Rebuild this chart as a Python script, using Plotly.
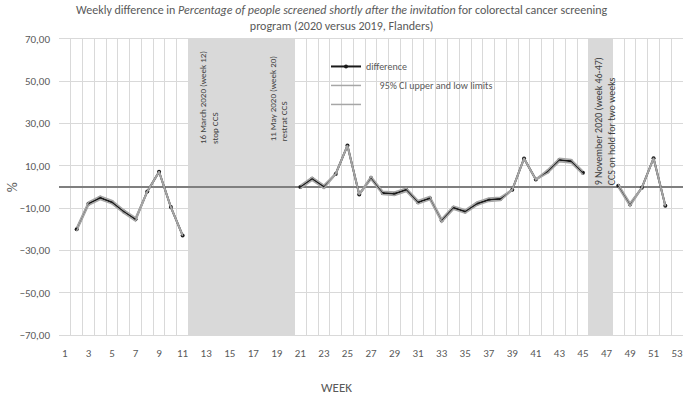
import plotly.graph_objects as go

weeks = list(range(1, 54))

difference = [None, -20.0, -7.9, -5.1, -7.2, -11.6, -15.3, -2.1, 7.2, -9.5, -22.9,
              None, None, None, None, None, None, None, None, None,
              0.0, 3.9, 0.1, 6.2, 19.6, -3.5, 4.3, -2.8, -3.2, -1.3,
              -7.2, -5.3, -15.8, -9.8, -11.6, -7.9, -6.0, -5.6, -1.3, 13.5,
              3.5, 7.3, 12.8, 12.2, 6.7, None, None,
              0.6, -8.3, -0.4, 13.6, -8.9, None]

ci_upper = [None, -19.2, -7.1, -4.3, -6.4, -10.8, -14.5, -1.9, 7.4, -9.3, -22.7,
            None, None, None, None, None, None, None, None, None,
            0.8, 4.7, 0.9, 6.4, 19.8, -3.3, 5.1, -2.0, -2.4, -0.5,
            -6.4, -4.5, -15.0, -9.0, -10.8, -7.1, -5.2, -4.8, -1.1, 13.7,
            3.7, 8.1, 13.6, 13.0, 7.5, None, None,
            1.4, -7.5, -0.2, 13.8, -8.7, None]

ci_lower = [None, -20.8, -8.7, -5.9, -8.0, -12.4, -16.1, -2.3, 7.0, -9.7, -23.1,
            None, None, None, None, None, None, None, None, None,
            -0.8, 3.1, -0.7, 6.0, 19.4, -3.7, 3.5, -3.6, -4.0, -2.1,
            -8.0, -6.1, -16.6, -10.6, -12.4, -8.7, -6.8, -6.4, -1.5, 13.3,
            3.3, 6.5, 12.0, 11.4, 5.9, None, None,
            -0.2, -9.1, -0.6, 13.4, -9.1, None]

y_ticks = [70, 50, 30, 10, -10, -30, -50, -70]
x_ticks = list(range(1, 54, 2))

shaded_periods = [(11.5, 20.5), (45.5, 47.5)]

events = [
    (13.15, 0.64, "16 March 2020 (week 12)<br>stop CCS", 9),
    (19.15, 0.646, "11 May 2020 (week 20)<br>restrat CCS", 9),
    (46.85, 0.498, "9 November 2020 (week 46-47)<br>CCS on hold for two weeks", 10),
]

TITLE = ("Weekly difference in <i>Percentage of people screened shortly after the invitation</i>"
         " for colorectal cancer screening<br>program (2020 versus 2019, Flanders)")

FONT = "Carlito, Lato, sans-serif"
GREY_TXT = "#595959"
GRID = "#d9d9d9"

fig = go.Figure()
fig.add_trace(go.Scatter(x=weeks, y=difference, name="difference", mode="lines+markers",
                         line=dict(color="#1a1a1a", width=2),
                         marker=dict(color="#1a1a1a", size=4), connectgaps=False))
fig.add_trace(go.Scatter(x=weeks, y=ci_upper,
                         name="\u00a0\u00a0\u00a0\u00a0\u00a0\u00a095% CI upper and low limits",
                         mode="lines", line=dict(color="#a6a6a6", width=1.5), connectgaps=False))
fig.add_trace(go.Scatter(x=weeks, y=ci_lower, name=" ", mode="lines",
                         line=dict(color="#a6a6a6", width=1.5), connectgaps=False))

for x0, x1 in shaded_periods:
    fig.add_shape(type="rect", xref="x", yref="paper", x0=x0, x1=x1, y0=0, y1=1,
                  fillcolor="#d9d9d9", line=dict(width=0), layer="below")

for xv, yv, txt, fs in events:
    fig.add_annotation(x=xv, y=yv, xref="x", yref="paper", text=txt, textangle=-90,
                       showarrow=False, align="left", xanchor="center", yanchor="bottom",
                       font=dict(family=FONT, size=fs, color="#404040"))

fig.add_annotation(x=(342 - 59) / 624, y=(335 - 0) / 297, xref="paper", yref="paper",
                   text=TITLE, showarrow=False, xanchor="center", yanchor="top",
                   align="center", font=dict(family=FONT, size=12, color=GREY_TXT))
fig.add_annotation(x=(336 - 59) / 624, y=-0.178, xref="paper", yref="paper", text="WEEK",
                   showarrow=False, xanchor="center", yanchor="middle",
                   font=dict(family=FONT, size=13, color=GREY_TXT))
fig.add_annotation(x=-0.075, y=0.5, xref="paper", yref="paper", text="%", textangle=-90,
                   showarrow=False, xanchor="center", yanchor="middle",
                   font=dict(family=FONT, size=14, color=GREY_TXT))

fig.update_layout(
    width=685, height=394,
    margin=dict(l=59, r=2, t=39, b=59),
    paper_bgcolor="white", plot_bgcolor="white",
    separators=", ",
    font=dict(family=FONT, color=GREY_TXT, size=11),
    showlegend=True,
    legend=dict(x=(326 - 59) / 624, y=(335 - 51) / 297, xanchor="left", yanchor="top",
                bgcolor="rgba(0,0,0,0)", font=dict(family=FONT, size=10, color=GREY_TXT),
                tracegroupgap=0),
    xaxis=dict(range=[0.5, 53.5], tickmode="array", tickvals=x_ticks, showgrid=False,
               zeroline=False, ticks="", ticklabelstandoff=8,
               tickfont=dict(family=FONT, size=11, color=GREY_TXT),
               showline=True, linecolor=GRID, mirror=True,
               minor=dict(tickmode="linear", tick0=0.5, dtick=1, showgrid=True,
                          gridcolor=GRID, gridwidth=1)),
    yaxis=dict(range=[-70, 70], tickmode="array", tickvals=y_ticks, tickformat=".2f",
               showgrid=True, gridcolor=GRID, gridwidth=1,
               zeroline=True, zerolinecolor="#7f7f7f", zerolinewidth=1.5,
               ticks="", ticklabelstandoff=8,
               tickfont=dict(family=FONT, size=11, color=GREY_TXT),
               showline=False),
)

fig.write_html("out.html", config={"displayModeBar": False},
               post_script="document.body.style.margin='0';")
